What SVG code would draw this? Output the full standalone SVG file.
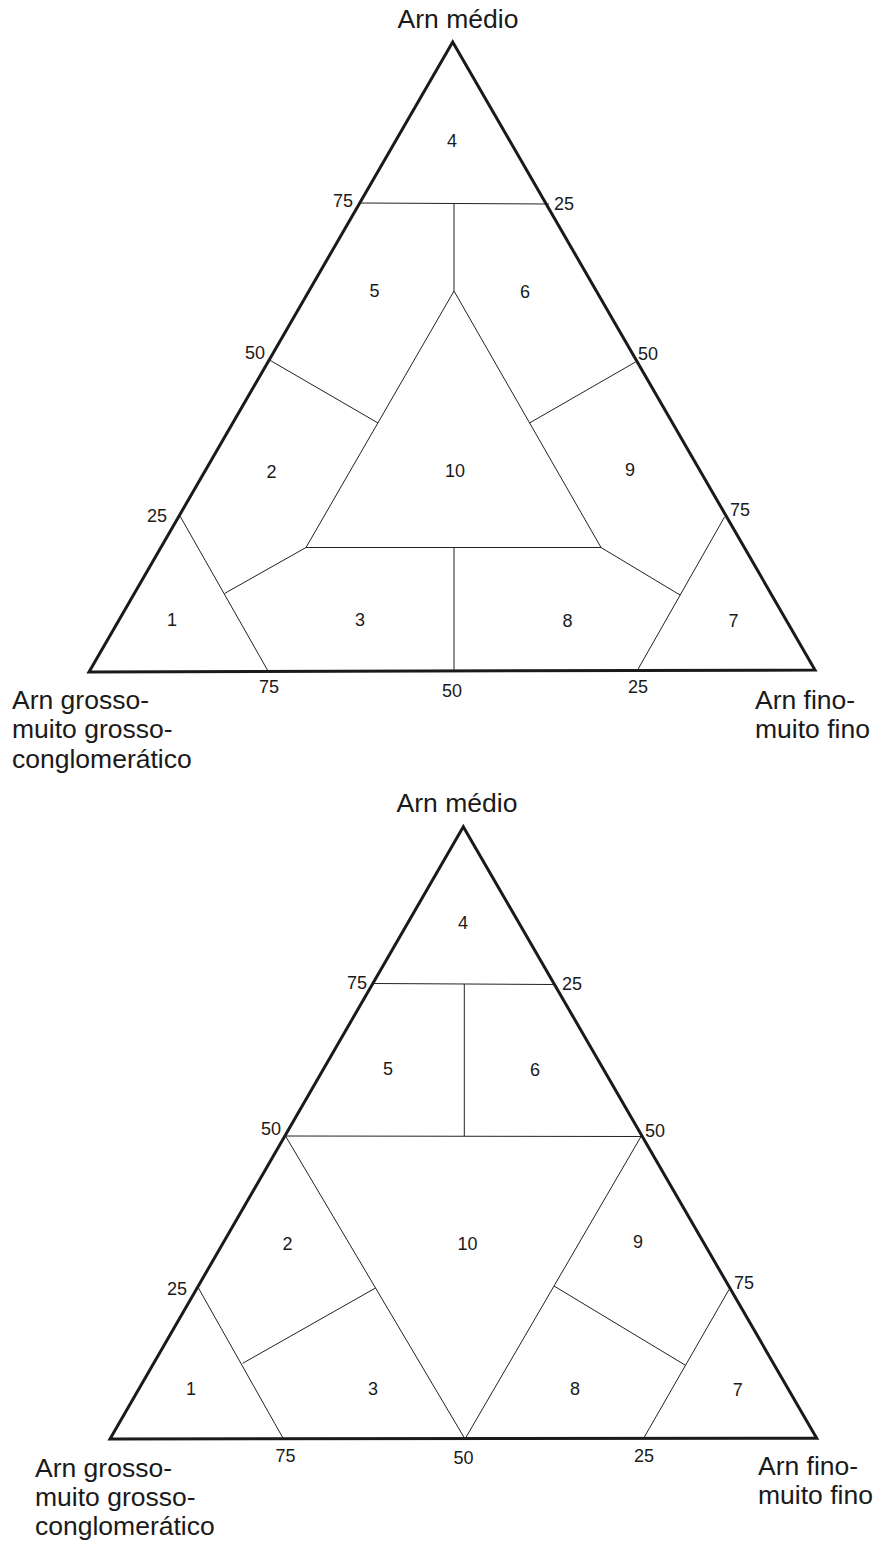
<svg xmlns="http://www.w3.org/2000/svg" width="877" height="1541" viewBox="0 0 877 1541">
<style>
  .frame { fill: none; stroke: #1a1a1a; stroke-width: 3; stroke-linejoin: miter; }
  .div { fill: none; stroke: #222; stroke-width: 1; }
  text { font-family: "Liberation Sans", Arial, sans-serif; fill: #1a1a1a; }
  .ttl { font-size: 26.5px; }
  .num { font-size: 18px; }
  .mid { text-anchor: middle; }
  .end { text-anchor: end; }
</style>
<rect width="877" height="1541" fill="#ffffff"/>

<!-- ============ TOP DIAGRAM ============ -->
<g id="top-diagram">
  <g id="top-frame">
    <polygon class="frame" points="452.7,42 815,670 89,672"/>
  </g>
  <g id="top-connectors">
    <line class="div" x1="361" y1="203" x2="549" y2="204"/>
    <line class="div" x1="454" y1="203.5" x2="454" y2="291"/>
    <polygon class="div" points="454,291 601,547.5 306,547.5"/>
    <line class="div" x1="269.5" y1="360" x2="378" y2="423"/>
    <line class="div" x1="635.5" y1="362" x2="529.5" y2="423"/>
    <line class="div" x1="454" y1="547.5" x2="454" y2="671"/>
    <line class="div" x1="180" y1="516" x2="268" y2="671"/>
    <line class="div" x1="306" y1="547.5" x2="224.5" y2="593.5"/>
    <line class="div" x1="724.5" y1="517" x2="637" y2="671"/>
    <line class="div" x1="601" y1="547.5" x2="680" y2="595"/>
  </g>
  <g id="top-axis-labels">
    <text class="ttl mid" x="458" y="27.5">Arn médio</text>
    <text class="ttl" x="12" y="708.5">Arn grosso-</text>
    <text class="ttl" x="12" y="738">muito grosso-</text>
    <text class="ttl" x="12" y="768">conglomerático</text>
    <text class="ttl" x="755" y="709">Arn fino-</text>
    <text class="ttl" x="755" y="738">muito fino</text>
  </g>
  <g id="top-ticks">
    <text class="num end" x="353" y="207">75</text>
    <text class="num" x="554" y="210">25</text>
    <text class="num end" x="265" y="359">50</text>
    <text class="num" x="638" y="360">50</text>
    <text class="num end" x="167" y="521.5">25</text>
    <text class="num" x="730" y="516">75</text>
    <text class="num mid" x="269" y="693">75</text>
    <text class="num mid" x="452" y="697">50</text>
    <text class="num mid" x="638" y="693">25</text>
  </g>
  <g id="top-field-4"><text class="num mid" x="452" y="146.5">4</text></g>
  <g id="top-field-5"><text class="num mid" x="374.5" y="296.5">5</text></g>
  <g id="top-field-6"><text class="num mid" x="525" y="297.5">6</text></g>
  <g id="top-field-2"><text class="num mid" x="271.5" y="477.5">2</text></g>
  <g id="top-field-10"><text class="num mid" x="455" y="477">10</text></g>
  <g id="top-field-9"><text class="num mid" x="630" y="476">9</text></g>
  <g id="top-field-1"><text class="num mid" x="172" y="626">1</text></g>
  <g id="top-field-3"><text class="num mid" x="360" y="626">3</text></g>
  <g id="top-field-8"><text class="num mid" x="567.5" y="627">8</text></g>
  <g id="top-field-7"><text class="num mid" x="733.5" y="627">7</text></g>
</g>

<!-- ============ BOTTOM DIAGRAM ============ -->
<g id="bottom-diagram">
  <g id="bottom-frame">
    <polygon class="frame" points="463.3,826.7 816.7,1438.3 110,1439"/>
  </g>
  <g id="bottom-connectors">
    <line class="div" x1="374" y1="983.5" x2="553.5" y2="984.5"/>
    <line class="div" x1="464.3" y1="984" x2="464.3" y2="1136"/>
    <line class="div" x1="285.5" y1="1136" x2="641" y2="1136.5"/>
    <line class="div" x1="285.5" y1="1136" x2="465" y2="1439"/>
    <line class="div" x1="641" y1="1136.5" x2="465" y2="1439"/>
    <line class="div" x1="197.7" y1="1286.7" x2="283.5" y2="1439"/>
    <line class="div" x1="242.7" y1="1363.3" x2="375.5" y2="1288"/>
    <line class="div" x1="729" y1="1289.5" x2="643.5" y2="1438.5"/>
    <line class="div" x1="685" y1="1365" x2="554" y2="1286"/>
  </g>
  <g id="bottom-axis-labels">
    <text class="ttl mid" x="457" y="812">Arn médio</text>
    <text class="ttl" x="35" y="1477">Arn grosso-</text>
    <text class="ttl" x="35" y="1506">muito grosso-</text>
    <text class="ttl" x="35" y="1535">conglomerático</text>
    <text class="ttl" x="758" y="1475">Arn fino-</text>
    <text class="ttl" x="758" y="1503.5">muito fino</text>
  </g>
  <g id="bottom-ticks">
    <text class="num end" x="367" y="988.5">75</text>
    <text class="num" x="562" y="990">25</text>
    <text class="num end" x="281" y="1134.5">50</text>
    <text class="num" x="645" y="1136.5">50</text>
    <text class="num end" x="187" y="1295">25</text>
    <text class="num" x="734" y="1288.5">75</text>
    <text class="num mid" x="285.5" y="1462">75</text>
    <text class="num mid" x="463.5" y="1464">50</text>
    <text class="num mid" x="644" y="1462">25</text>
  </g>
  <g id="bottom-field-4"><text class="num mid" x="463" y="928.5">4</text></g>
  <g id="bottom-field-5"><text class="num mid" x="388" y="1075">5</text></g>
  <g id="bottom-field-6"><text class="num mid" x="535" y="1075.5">6</text></g>
  <g id="bottom-field-2"><text class="num mid" x="287.5" y="1250">2</text></g>
  <g id="bottom-field-10"><text class="num mid" x="467.5" y="1250">10</text></g>
  <g id="bottom-field-9"><text class="num mid" x="638" y="1248">9</text></g>
  <g id="bottom-field-1"><text class="num mid" x="191" y="1395">1</text></g>
  <g id="bottom-field-3"><text class="num mid" x="373" y="1395">3</text></g>
  <g id="bottom-field-8"><text class="num mid" x="575" y="1395">8</text></g>
  <g id="bottom-field-7"><text class="num mid" x="737.7" y="1396">7</text></g>
</g>
</svg>
